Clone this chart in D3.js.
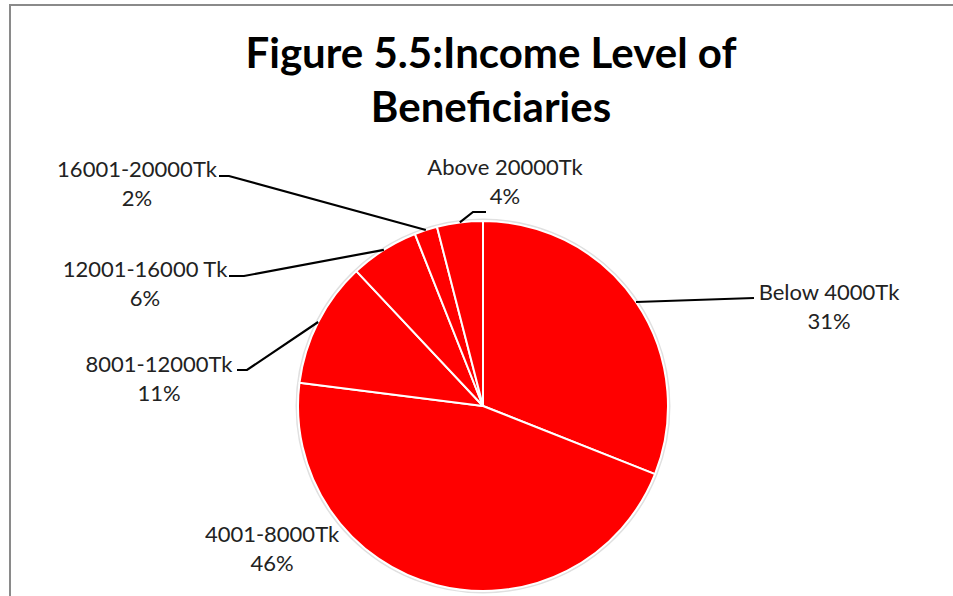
<!DOCTYPE html>
<html>
<head>
<meta charset="utf-8">
<script src="https://cdn.jsdelivr.net/npm/d3@7"></script>
<style>
body { margin: 0; background: #fff; }
</style>
</head>
<body>
<script>

var categories = ["Below 4000Tk", "4001-8000Tk", "8001-12000Tk", "12001-16000 Tk", "16001-20000Tk", "Above 20000Tk"];
var percents = [31, 46, 11, 6, 2, 4];
var titleLines = ["Figure 5.5:Income Level of", "Beneficiaries"];

var w = 953;
var h = 596;
var cx = 483;
var cy = 406;
var r = 185;

// where each label sits (centre x, first baseline y) and where its leader ends
var labelLayout = [
	{tx: 829, ty: 300, ex: 754, ey: 298, stub: 0},
	{tx: 272, ty: 542, ex: null},
	{tx: 159, ty: 372, ex: 237, ey: 370, stub: 10},
	{tx: 145, ty: 277, ex: 229, ey: 276, stub: 15},
	{tx: 137, ty: 177, ex: 219, ey: 176, stub: 10},
	{tx: 505, ty: 175, ex: 486, ey: 212, stub: -13}
];

var svg = d3.select("body")
			.append("svg")
			.attr("width", w)
			.attr("height", h);

// chart frame (top and left edges visible)
svg.append("path")
	.attr("d", "M10,596 L10,5 L953,5")
	.attr("fill", "none")
	.attr("stroke", "#8a8a8a")
	.attr("stroke-width", 2);

svg.selectAll(".title")
	.data(titleLines)
	.enter()
	.append("text")
	.attr("x", 491)
	.attr("y", function(d, i){ return 68 + i * 54; })
	.attr("text-anchor", "middle")
	.attr("font-family", "Lato, sans-serif")
	.attr("font-weight", "bold")
	.attr("font-size", "42px")
	.attr("fill", "#000")
	.text(function(d){ return d; });

var pie = d3.pie().sort(null).value(function(d){ return d; });
var arcs = pie(percents);

var arc = d3.arc().innerRadius(0).outerRadius(r);

var g = svg.append("g")
			.attr("transform", "translate(" + cx + "," + cy + ")");

// soft shadow round the pie
g.append("circle")
	.attr("r", r + 1.5)
	.attr("fill", "none")
	.attr("stroke", "#e0e0e0")
	.attr("stroke-width", 2);

g.selectAll(".slice")
	.data(arcs)
	.enter()
	.append("path")
	.attr("d", arc)
	.attr("fill", "#ff0000")
	.attr("stroke", "#ffffff")
	.attr("stroke-width", 2)
	.attr("stroke-linejoin", "round");

// leader lines from slice edge to label
arcs.forEach(function(a, i){
	var L = labelLayout[i];
	if (L.ex === null) return;
	var mid = (a.startAngle + a.endAngle) / 2;
	var px = cx + r * Math.sin(mid);
	var py = cy - r * Math.cos(mid);
	var pts = [[px, py], [L.ex + L.stub, L.ey], [L.ex, L.ey]];
	svg.append("path")
		.attr("d", d3.line()(pts))
		.attr("fill", "none")
		.attr("stroke", "#000")
		.attr("stroke-width", 2.2);
});

var labels = svg.selectAll(".lbl")
			.data(arcs)
			.enter()
			.append("text")
			.attr("text-anchor", "middle")
			.attr("font-family", "Lato, sans-serif")
			.attr("font-size", "22px")
			.attr("fill", "#222");

labels.append("tspan")
	.attr("x", function(d, i){ return labelLayout[i].tx; })
	.attr("y", function(d, i){ return labelLayout[i].ty; })
	.text(function(d, i){ return categories[i]; });

labels.append("tspan")
	.attr("x", function(d, i){ return labelLayout[i].tx; })
	.attr("y", function(d, i){ return labelLayout[i].ty + 29; })
	.text(function(d){ return d.data + "%"; });

</script>
</body>
</html>
